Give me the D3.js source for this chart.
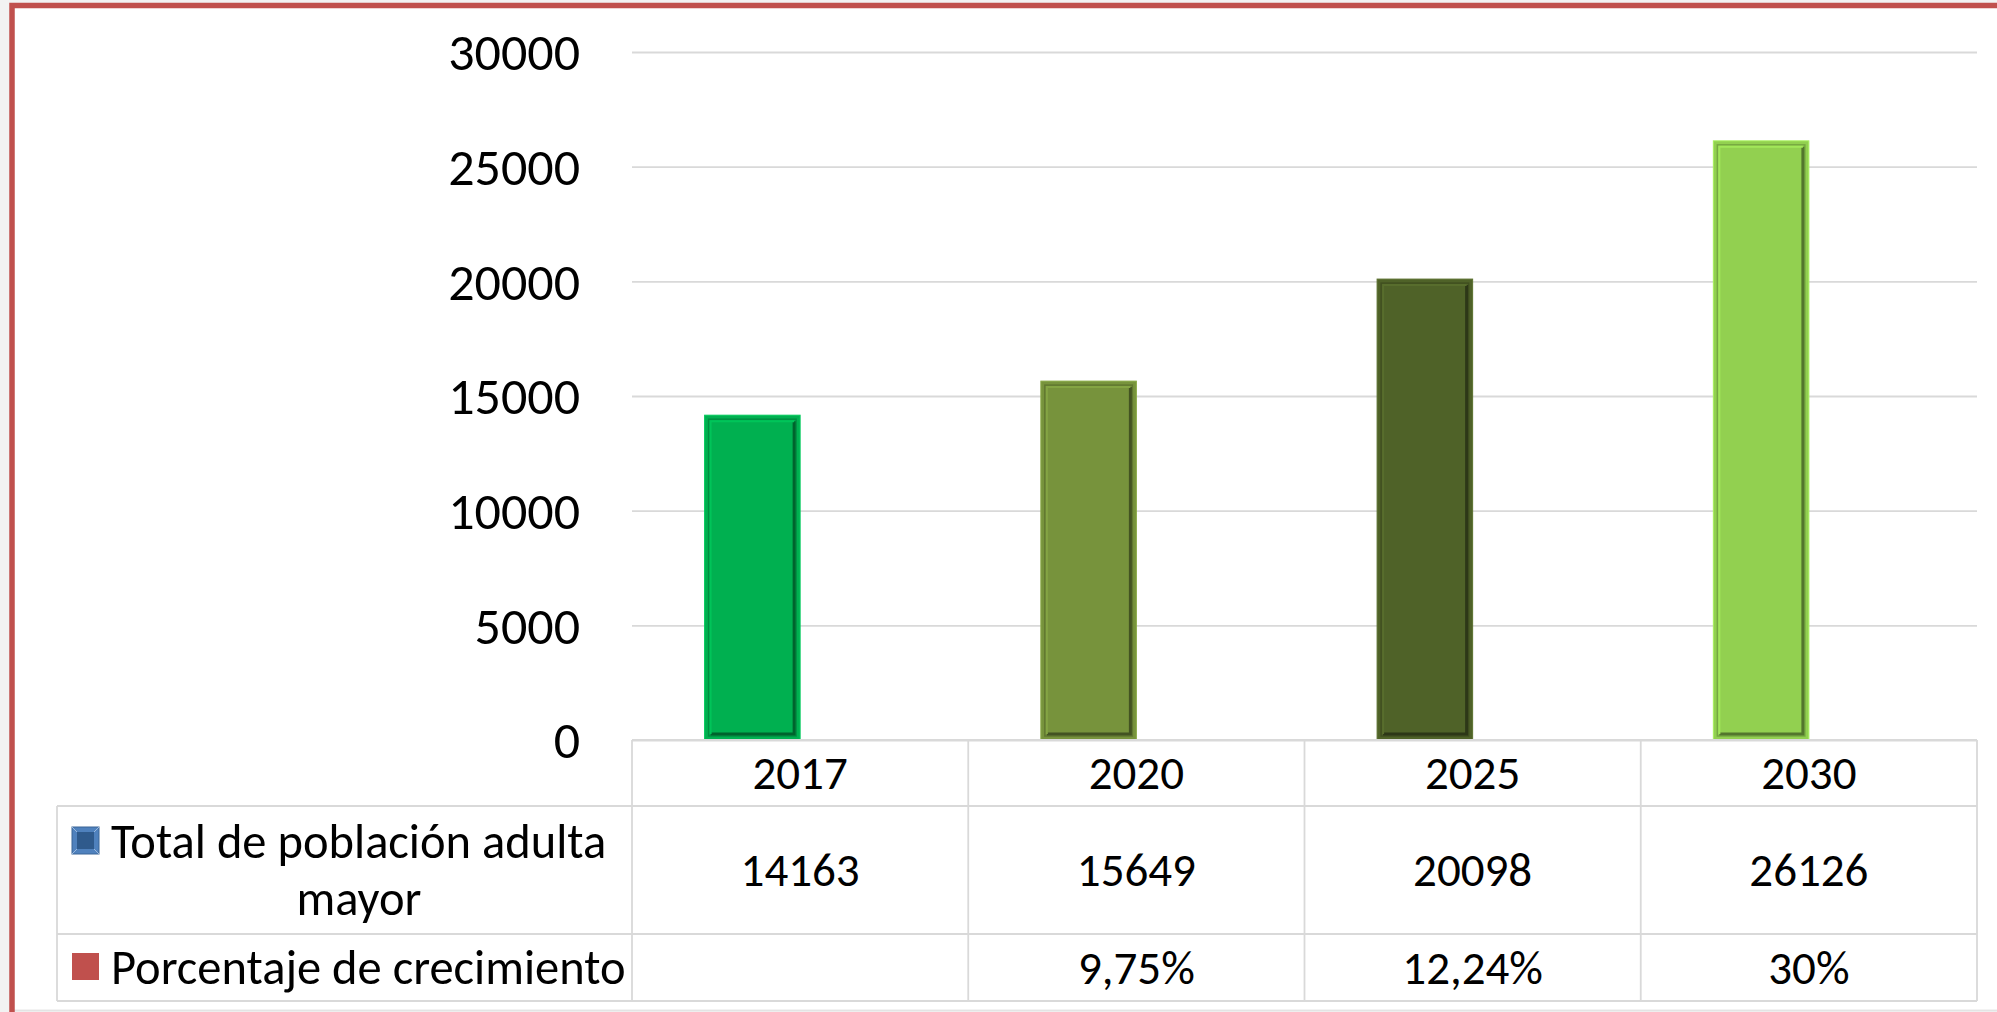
<!DOCTYPE html>
<html>
<head>
<meta charset="utf-8">
<script src="https://cdn.jsdelivr.net/npm/d3@7"></script>
<style>
    html, body { margin: 0; padding: 0; background: #f2f2f2; }
    svg { display: block; }
    text { font-family: Carlito, Calibri, 'Liberation Sans Narrow', 'Open Sans', sans-serif; fill: #000; }
</style>
</head>
<body>
<div id="chart"></div>
<script>
// datos
const years = ['2017', '2020', '2025', '2030'];
const totalValues = [14163, 15649, 20098, 26126];
const growthValues = [0, 9.75, 12.24, 30];
const growthLabels = ['', '9,75%', '12,24%', '30%'];
const yTicks = [0, 5000, 10000, 15000, 20000, 25000, 30000];
const seriesNames = ['Total de población adulta mayor', 'Porcentaje de crecimiento'];
const seriesKeys = ['total', 'growth'];
const barColors = ['#00B050', '#77933C', '#4F6228', '#92D050'];
const keyColors = ['#4F81BD', '#C0504D'];

const W = 1997, H = 1012;
const plot = { left: 632, right: 1977, top: 52, bottom: 740 };
const rows = [740, 806, 934, 1001];
const tableLeft = 57;
const gridColor = '#d9d9d9';

const svg = d3.select('#chart')
    .append('svg')
    .attr('width', W)
    .attr('height', H);

// marco
svg.append('rect')
    .attr('x', 12).attr('y', 5.5)
    .attr('width', W + 20).attr('height', 1004)
    .attr('fill', '#fff');
svg.append('line')
    .attr('x1', 12).attr('x2', W).attr('y1', 1010.5).attr('y2', 1010.5)
    .attr('stroke', '#e4e4e4').attr('stroke-width', 1.5);
svg.append('path')
    .attr('d', `M12,${H} V5.5 H${W}`)
    .attr('fill', 'none')
    .attr('stroke', '#C0504D')
    .attr('stroke-width', 5.5);

const x = d3.scaleBand()
    .domain(years)
    .range([plot.left, plot.right]);

const xs = d3.scaleBand()
    .domain(seriesKeys)
    .range([0, x.bandwidth()])
    .paddingOuter(0.76);

const y = d3.scaleLinear()
    .domain([0, 30000])
    .range([plot.bottom, plot.top]);

// cuadrícula
const grid = svg.append('g')
    .attr('transform', `translate(${plot.left},0)`)
    .call(d3.axisLeft(y).tickValues(yTicks).tickSize(-(plot.right - plot.left)).tickFormat(''));
grid.select('.domain').remove();
grid.selectAll('line').attr('stroke', gridColor).attr('stroke-width', 1.8);

// eje y
const yAxis = svg.append('g')
    .attr('transform', `translate(${plot.left},0)`)
    .call(d3.axisLeft(y).tickValues(yTicks).tickSize(0).tickPadding(52).tickFormat(d3.format('d')));
yAxis.select('.domain').remove();
yAxis.selectAll('text')
    .style('font-size', '52px')
    .attr('dy', '0.34em');

// barras
const bars = svg.append('g');
years.forEach((yr, i) => {
    const bx = x(yr) + xs('total');
    const bw = xs.bandwidth();
    const by = y(totalValues[i]);
    const bh = y(0) - by;
    const c = d3.color(barColors[i]);
    const g = bars.append('g');
    g.append('rect')
        .attr('x', bx).attr('y', by).attr('width', bw).attr('height', bh)
        .attr('fill', barColors[i])
        .attr('stroke', c.brighter(0.4)).attr('stroke-width', 1);
    // bisel
    g.append('rect')
        .attr('x', bx + 4).attr('y', by + 4).attr('width', bw - 8).attr('height', bh - 8)
        .attr('fill', 'none')
        .attr('stroke', c.darker(0.6)).attr('stroke-width', 1.5);
    g.append('path')
        .attr('d', `M${bx + bw - 6},${by + 6} V${by + bh - 6} H${bx + 6}`)
        .attr('fill', 'none')
        .attr('stroke', c.darker(1.6)).attr('stroke-width', 3);
    g.append('path')
        .attr('d', `M${bx + 6},${by + bh - 6} V${by + 6} H${bx + bw - 6}`)
        .attr('fill', 'none')
        .attr('stroke', c.brighter(0.3)).attr('stroke-width', 2);

    bars.append('rect')
        .attr('x', x(yr) + xs('growth'))
        .attr('y', y(growthValues[i]))
        .attr('width', xs.bandwidth())
        .attr('height', y(0) - y(growthValues[i]))
        .attr('fill', keyColors[1]);
});

// tabla de datos
const table = svg.append('g')
    .attr('stroke', gridColor)
    .attr('stroke-width', 1.8);
table.append('line')
    .attr('x1', plot.left).attr('x2', plot.right).attr('y1', rows[0]).attr('y2', rows[0]);
rows.slice(1).forEach((ry) => {
    table.append('line')
        .attr('x1', tableLeft).attr('x2', plot.right).attr('y1', ry).attr('y2', ry);
});
table.append('line')
    .attr('x1', tableLeft).attr('x2', tableLeft).attr('y1', rows[1]).attr('y2', rows[3]);
years.concat([null]).forEach((yr) => {
    const vx = yr === null ? plot.right : x(yr);
    table.append('line')
        .attr('x1', vx).attr('x2', vx).attr('y1', rows[0]).attr('y2', rows[3]);
});

const cellText = svg.append('g')
    .attr('text-anchor', 'middle')
    .style('font-size', '47px');
years.forEach((yr, i) => {
    const cx = x(yr) + x.bandwidth() / 2;
    cellText.append('text')
        .attr('x', cx).attr('y', (rows[0] + rows[1]) / 2).attr('dy', '0.35em')
        .text(yr);
    cellText.append('text')
        .attr('x', cx).attr('y', (rows[1] + rows[2]) / 2).attr('dy', '0.35em')
        .text(totalValues[i]);
    cellText.append('text')
        .attr('x', cx).attr('y', (rows[2] + rows[3]) / 2).attr('dy', '0.35em')
        .text(growthLabels[i]);
});

// leyenda en la tabla
const key1y = 827, keySize = 27;
const k1 = svg.append('g');
k1.append('rect')
    .attr('x', 72).attr('y', key1y).attr('width', keySize).attr('height', keySize)
    .attr('fill', keyColors[0]).attr('stroke', '#3a6496').attr('stroke-width', 1);
k1.append('rect')
    .attr('x', 77).attr('y', key1y + 5).attr('width', keySize - 10).attr('height', keySize - 10)
    .attr('fill', '#2f5a8c');
k1.append('path')
    .attr('d', `M72,${key1y} L77,${key1y + 5} M${72 + keySize},${key1y} L${67 + keySize},${key1y + 5} M72,${key1y + keySize} L77,${key1y + keySize - 5} M${72 + keySize},${key1y + keySize} L${67 + keySize},${key1y + keySize - 5}`)
    .attr('stroke', '#9bb8dc').attr('stroke-width', 1);

svg.append('rect')
    .attr('x', 72).attr('y', 953).attr('width', keySize).attr('height', keySize)
    .attr('fill', keyColors[1]);

const labelText = svg.append('g').style('font-size', '48.5px');
labelText.append('text')
    .attr('x', 111).attr('y', 841).attr('dy', '0.35em')
    .text('Total de población adulta');
labelText.append('text')
    .attr('x', 359).attr('y', 898).attr('dy', '0.35em')
    .attr('text-anchor', 'middle')
    .text('mayor');
labelText.append('text')
    .attr('x', 111).attr('y', 967).attr('dy', '0.35em')
    .text(seriesNames[1]);
</script>
</body>
</html>
